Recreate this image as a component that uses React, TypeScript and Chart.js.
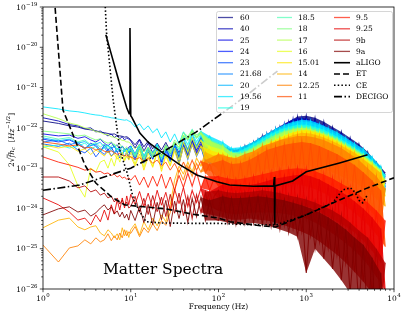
import React, { useEffect, useRef } from "react";
import { Chart, registerables } from "chart.js";
Chart.register(...registerables);

// shared frequency grid (Hz)
const freqs = [1, 1.5, 2, 2.5, 3, 3.5, 4, 4.5, 5, 5.5, 6, 6.5, 7, 7.5, 8, 8.5, 9, 9.5,
  10, 11.2, 12.6, 14.1, 15.8, 17.8, 20, 22.4, 25.1, 28.2, 31.6, 35.5, 39.8, 44.7, 50.1, 56.2, 63.1, 70.8, 79.4, 89.1,
  100, 112, 126, 141, 158, 178, 200, 224, 251, 282, 316, 355, 398, 447, 501, 562, 631, 708, 794, 891,
  1000, 1122, 1259, 1413, 1585, 1778, 1995, 2239, 2512, 2818, 3162, 3548, 3981, 4467, 5012, 5623, 6310, 7079, 7943];

// log10 of 2*sqrt(f)*h_c for each spectrum
const s60 = [-21.83,-21.89,-21.95,-21.98,-22.03,-22.05,-22.07,-22.11,-22.12,-22.14,-22.16,-22.15,-22.19,-22.20,-22.21,-22.23,-22.22,-22.25,
  -22.30,-22.42,-22.28,-22.47,-22.33,-22.52,-22.38,-22.55,-22.36,-22.58,-22.40,-22.62,-22.35,-22.55,-22.28,-22.48,-22.25,-22.52,-22.35,-22.60,
  -22.40,-22.85,-22.50,-23.05,-22.55,-22.95,-22.45,-22.90,-22.35,-22.85,-22.20,-22.75,-22.10,-22.65,-21.98,-22.55,-21.85,-22.45,-21.72,-22.40,
  -21.70,-22.35,-21.75,-22.45,-21.85,-22.50,-21.98,-22.60,-22.10,-22.70,-22.25,-22.85,-22.40,-22.95,-22.60,-23.10,-22.85,-23.30,-23.10];
const s40 = [-21.75,-21.83,-21.92,-21.95,-22.02,-22.00,-22.10,-22.08,-22.14,-22.20,-22.15,-22.24,-22.19,-22.27,-22.22,-22.30,-22.25,-22.28,
  -22.32,-22.50,-22.30,-22.58,-22.38,-22.62,-22.40,-22.70,-22.45,-22.65,-22.40,-22.72,-22.36,-22.60,-22.30,-22.55,-22.33,-22.62,-22.42,-22.70,
  -22.95,-22.45,-23.05,-22.60,-23.10,-22.55,-23.00,-22.48,-22.92,-22.30,-22.85,-22.15,-22.75,-22.02,-22.65,-21.90,-22.55,-21.78,-22.45,-21.75,
  -22.42,-21.80,-22.50,-21.90,-22.58,-22.00,-22.65,-22.12,-22.75,-22.25,-22.85,-22.38,-22.95,-22.55,-23.10,-22.75,-23.25,-22.98,-23.40];
const s25 = [-22.15,-22.20,-22.18,-22.26,-22.22,-22.30,-22.35,-22.28,-22.38,-22.45,-22.36,-22.48,-22.42,-22.55,-22.45,-22.52,-22.60,-22.48,
  -22.45,-22.65,-22.40,-22.72,-22.50,-22.78,-22.48,-22.70,-22.42,-22.80,-22.50,-22.75,-22.38,-22.68,-22.32,-22.62,-22.40,-22.74,-22.48,-22.82,
  -22.50,-22.98,-22.62,-23.10,-22.66,-23.05,-22.55,-23.00,-22.42,-22.92,-22.30,-22.82,-22.18,-22.72,-22.05,-22.62,-21.92,-22.55,-21.82,-22.50,
  -21.80,-22.48,-21.85,-22.55,-21.95,-22.62,-22.06,-22.70,-22.18,-22.80,-22.32,-22.92,-22.48,-23.02,-22.66,-23.18,-22.90,-23.35,-23.15];
const s24 = [-22.28,-22.35,-22.30,-22.40,-22.52,-22.38,-22.45,-22.60,-22.42,-22.55,-22.48,-22.62,-22.50,-22.58,-22.68,-22.52,-22.60,-22.70,
  -22.50,-22.75,-22.45,-22.82,-22.55,-22.70,-22.40,-22.85,-22.52,-22.78,-22.45,-22.88,-22.42,-22.72,-22.38,-22.66,-22.44,-22.80,-22.50,-22.86,
  -23.00,-22.55,-23.12,-22.68,-23.15,-22.62,-23.05,-22.50,-22.98,-22.38,-22.88,-22.25,-22.80,-22.12,-22.70,-22.00,-22.62,-21.90,-22.55,-21.85,
  -22.52,-21.88,-22.58,-21.96,-22.64,-22.08,-22.72,-22.20,-22.82,-22.34,-22.92,-22.48,-23.05,-22.64,-23.18,-22.85,-23.32,-23.05,-23.48];
const s23 = [-22.40,-22.46,-22.38,-22.55,-22.62,-22.50,-22.72,-22.58,-22.66,-22.55,-22.70,-22.62,-22.58,-22.75,-22.64,-22.70,-22.60,-22.78,
  -22.55,-22.80,-22.50,-22.88,-22.60,-22.76,-22.48,-22.92,-22.58,-22.84,-22.50,-22.90,-22.46,-22.78,-22.40,-22.70,-22.48,-22.85,-22.55,-22.92,
  -22.58,-23.05,-22.70,-23.18,-22.72,-23.10,-22.62,-23.05,-22.50,-22.98,-22.38,-22.90,-22.25,-22.80,-22.12,-22.72,-22.00,-22.65,-21.92,-22.60,
  -21.90,-22.62,-21.95,-22.68,-22.04,-22.75,-22.15,-22.82,-22.28,-22.92,-22.42,-23.02,-22.58,-23.15,-22.75,-23.30,-22.98,-23.45,-23.20];
const s21_68 = [-22.35,-22.30,-22.42,-22.36,-22.50,-22.44,-22.40,-22.55,-22.48,-22.62,-22.52,-22.45,-22.60,-22.55,-22.65,-22.58,-22.50,-22.62,
  -22.55,-22.72,-22.48,-22.80,-22.58,-22.75,-22.52,-22.82,-22.55,-22.70,-22.45,-22.78,-22.35,-22.62,-22.25,-22.50,-22.28,-22.58,-22.40,-22.72,
  -22.95,-22.50,-23.05,-22.62,-23.10,-22.60,-23.02,-22.52,-22.95,-22.40,-22.88,-22.28,-22.78,-22.15,-22.70,-22.05,-22.62,-21.95,-22.58,-21.90,
  -22.58,-21.92,-22.62,-22.00,-22.68,-22.10,-22.75,-22.22,-22.85,-22.35,-22.95,-22.48,-23.08,-22.62,-23.22,-22.82,-23.38,-23.02,-23.55];
const s20 = [-22.25,-22.32,-22.28,-22.38,-22.34,-22.44,-22.40,-22.36,-22.48,-22.42,-22.52,-22.46,-22.55,-22.50,-22.45,-22.58,-22.52,-22.60,
  -22.45,-22.68,-22.40,-22.72,-22.48,-22.66,-22.42,-22.75,-22.46,-22.62,-22.38,-22.68,-22.25,-22.55,-22.15,-22.45,-22.20,-22.52,-22.35,-22.65,
  -22.40,-22.90,-22.55,-23.02,-22.60,-22.98,-22.50,-22.92,-22.38,-22.85,-22.25,-22.75,-22.12,-22.66,-22.02,-22.58,-21.92,-22.52,-21.85,-22.50,
  -21.84,-22.52,-21.90,-22.58,-21.98,-22.65,-22.10,-22.72,-22.22,-22.82,-22.36,-22.92,-22.52,-23.05,-22.70,-23.20,-22.92,-23.38,-23.18];
const s19_56 = [-21.48,-21.53,-21.58,-21.60,-21.63,-21.66,-21.68,-21.69,-21.72,-21.73,-21.75,-21.76,-21.78,-21.79,-21.80,-21.81,-21.80,-21.83,
  -21.85,-21.98,-21.90,-22.05,-21.95,-22.12,-22.02,-22.25,-22.10,-22.35,-22.15,-22.40,-22.10,-22.30,-22.05,-22.25,-22.08,-22.35,-22.20,-22.50,
  -22.75,-22.35,-22.88,-22.50,-22.95,-22.48,-22.88,-22.40,-22.80,-22.28,-22.70,-22.15,-22.62,-22.02,-22.52,-21.92,-22.45,-21.85,-22.42,-21.80,
  -22.42,-21.82,-22.46,-21.90,-22.52,-22.00,-22.60,-22.10,-22.70,-22.24,-22.82,-22.38,-22.95,-22.52,-23.10,-22.72,-23.28,-22.95,-23.45];
const s19 = [-22.48,-22.42,-22.50,-22.45,-22.38,-22.52,-22.46,-22.58,-22.50,-22.44,-22.56,-22.62,-22.50,-22.58,-22.66,-22.55,-22.62,-22.52,
  -22.48,-22.65,-22.42,-22.70,-22.50,-22.62,-22.40,-22.72,-22.45,-22.60,-22.35,-22.55,-22.22,-22.42,-22.12,-22.35,-22.15,-22.45,-22.30,-22.60,
  -22.42,-22.88,-22.58,-23.00,-22.62,-22.95,-22.52,-22.90,-22.40,-22.82,-22.28,-22.74,-22.15,-22.66,-22.05,-22.58,-21.98,-22.52,-21.92,-22.52,
  -21.92,-22.55,-21.98,-22.60,-22.05,-22.68,-22.16,-22.76,-22.28,-22.86,-22.42,-22.96,-22.56,-23.08,-22.72,-23.22,-22.92,-23.40,-23.15];
const s18_5 = [-22.20,-22.28,-22.24,-22.35,-22.30,-22.42,-22.36,-22.48,-22.40,-22.52,-22.45,-22.40,-22.55,-22.48,-22.58,-22.52,-22.62,-22.55,
  -22.50,-22.68,-22.45,-22.75,-22.52,-22.70,-22.46,-22.78,-22.50,-22.66,-22.38,-22.52,-22.20,-22.30,-22.10,-22.25,-22.12,-22.35,-22.28,-22.55,
  -22.80,-22.42,-22.95,-22.60,-23.02,-22.60,-22.95,-22.52,-22.88,-22.40,-22.80,-22.28,-22.72,-22.15,-22.65,-22.06,-22.58,-22.00,-22.55,-21.96,
  -22.58,-21.98,-22.62,-22.05,-22.68,-22.14,-22.76,-22.25,-22.86,-22.38,-22.96,-22.50,-23.08,-22.65,-23.22,-22.82,-23.38,-23.02,-23.55];
const s18 = [-22.08,-22.12,-22.15,-22.20,-22.18,-22.25,-22.30,-22.27,-22.34,-22.38,-22.35,-22.42,-22.45,-22.40,-22.48,-22.52,-22.47,-22.55,
  -22.55,-22.72,-22.50,-22.80,-22.56,-22.74,-22.48,-22.70,-22.42,-22.58,-22.30,-22.42,-22.12,-22.22,-22.05,-22.18,-22.10,-22.30,-22.28,-22.52,
  -22.48,-22.95,-22.65,-23.05,-22.70,-23.00,-22.60,-22.95,-22.48,-22.88,-22.35,-22.80,-22.22,-22.72,-22.12,-22.65,-22.05,-22.62,-22.00,-22.60,
  -22.02,-22.64,-22.08,-22.70,-22.15,-22.78,-22.25,-22.86,-22.38,-22.96,-22.50,-23.06,-22.64,-23.18,-22.80,-23.32,-23.00,-23.50,-23.25];
const s17 = [-21.65,-21.77,-21.88,-21.93,-22.00,-22.03,-22.09,-22.11,-22.16,-22.17,-22.22,-22.23,-22.27,-22.28,-22.31,-22.32,-22.35,-22.35,
  -22.40,-22.52,-22.42,-22.60,-22.48,-22.66,-22.50,-22.72,-22.46,-22.62,-22.35,-22.48,-22.18,-22.28,-22.10,-22.24,-22.14,-22.38,-22.32,-22.58,
  -22.85,-22.45,-22.98,-22.62,-23.05,-22.64,-22.98,-22.56,-22.90,-22.45,-22.84,-22.32,-22.76,-22.20,-22.68,-22.10,-22.62,-22.04,-22.60,-22.00,
  -22.62,-22.02,-22.66,-22.10,-22.72,-22.18,-22.80,-22.28,-22.90,-22.42,-23.00,-22.54,-23.12,-22.68,-23.26,-22.86,-23.42,-23.05,-23.60];
const s16 = [-22.47,-22.60,-22.92,-23.44,-23.72,-23.00,-23.09,-22.85,-22.80,-23.00,-22.75,-22.95,-22.67,-22.85,-22.60,-22.80,-22.55,-22.75,
  -22.60,-22.90,-22.55,-22.98,-22.62,-22.95,-22.58,-23.02,-22.65,-22.92,-22.50,-22.80,-22.35,-22.60,-22.25,-22.50,-22.30,-22.62,-22.45,-22.78,
  -23.00,-22.55,-23.10,-22.72,-23.15,-22.72,-23.08,-22.64,-23.00,-22.52,-22.92,-22.40,-22.85,-22.28,-22.78,-22.18,-22.72,-22.10,-22.70,-22.06,
  -22.72,-22.08,-22.76,-22.14,-22.82,-22.22,-22.90,-22.32,-23.00,-22.45,-23.10,-22.58,-23.22,-22.72,-23.35,-22.88,-23.52,-23.08,-23.70];
const s15_01 = [-22.42,-22.50,-22.45,-22.58,-22.52,-22.66,-22.55,-22.62,-22.70,-22.58,-22.72,-22.64,-22.78,-22.68,-22.75,-22.82,-22.70,-22.80,
  -22.70,-22.95,-22.65,-23.05,-22.72,-22.98,-22.62,-23.08,-22.70,-22.95,-22.58,-22.90,-22.48,-22.75,-22.40,-22.68,-22.45,-22.78,-22.55,-22.90,
  -22.62,-23.12,-22.75,-23.22,-22.80,-23.18,-22.70,-23.12,-22.58,-23.05,-22.45,-22.98,-22.35,-22.90,-22.25,-22.85,-22.15,-22.80,-22.08,-22.78,
  -22.05,-22.80,-22.10,-22.86,-22.18,-22.94,-22.28,-23.02,-22.40,-23.12,-22.52,-23.22,-22.66,-23.35,-22.84,-23.50,-23.02,-23.68,-23.30];
const s14 = [-24.48,-24.29,-24.24,-24.46,-24.53,-24.46,-24.43,-24.61,-24.68,-24.53,-24.61,-24.73,-24.63,-24.78,-24.48,-24.68,-24.55,-24.72,
  -24.53,-24.38,-24.66,-24.33,-24.53,-24.24,-24.43,-24.16,-24.33,-23.91,-23.30,-22.95,-23.15,-22.85,-23.10,-22.75,-22.95,-22.60,-22.85,-22.70,
  -23.05,-22.65,-23.18,-22.76,-23.28,-22.78,-23.20,-22.70,-23.12,-22.58,-23.05,-22.46,-23.00,-22.36,-22.95,-22.26,-22.92,-22.18,-22.90,-22.12,
  -22.92,-22.14,-22.96,-22.20,-23.02,-22.28,-23.10,-22.38,-23.20,-22.50,-23.30,-22.62,-23.42,-22.78,-23.58,-22.94,-23.76,-23.12,-23.95];
const s12_25 = [-24.91,-25.33,-24.98,-24.93,-24.78,-24.88,-24.73,-24.83,-24.78,-24.63,-24.80,-24.68,-24.78,-24.61,-24.73,-24.53,-24.68,-24.58,
  -24.62,-24.45,-24.70,-24.48,-24.60,-24.38,-24.55,-24.30,-24.42,-24.10,-23.55,-23.05,-23.30,-22.95,-23.20,-22.88,-23.10,-22.80,-23.05,-22.85,
  -22.65,-23.35,-22.72,-23.45,-22.75,-23.42,-22.65,-23.40,-22.58,-23.35,-22.45,-23.30,-22.38,-23.25,-22.30,-23.22,-22.25,-23.20,-22.20,-23.20,
  -22.20,-23.25,-22.24,-23.32,-22.30,-23.40,-22.40,-23.50,-22.50,-23.60,-22.65,-23.72,-22.80,-23.85,-23.00,-24.10,-23.20,-24.40,-23.50];
const s11 = [-22.35,-22.40,-22.45,-22.42,-22.50,-22.48,-22.55,-22.52,-22.58,-22.60,-22.57,-22.62,-22.66,-22.63,-22.68,-22.70,-22.67,-22.72,
  -22.72,-22.78,-22.74,-22.82,-22.76,-22.88,-22.80,-22.95,-22.85,-23.05,-22.88,-23.10,-22.85,-23.08,-22.80,-23.05,-22.82,-23.12,-22.90,-23.20,
  -23.45,-22.80,-23.55,-22.90,-23.60,-22.88,-23.55,-22.80,-23.50,-22.68,-23.45,-22.55,-23.40,-22.48,-23.38,-22.42,-23.38,-22.38,-23.40,-22.35,
  -23.45,-22.38,-23.52,-22.45,-23.62,-22.55,-23.75,-22.65,-23.88,-22.78,-24.02,-22.92,-24.20,-23.10,-24.40,-23.30,-24.65,-23.55,-24.95];
const s9_5 = [-22.72,-22.85,-22.92,-22.98,-23.05,-23.02,-23.10,-23.08,-23.14,-23.12,-23.18,-23.15,-23.22,-23.18,-23.25,-23.22,-23.28,-23.24,
  -23.30,-23.18,-23.42,-23.22,-23.48,-23.20,-23.45,-23.15,-23.50,-23.22,-23.55,-23.18,-23.48,-23.12,-23.45,-23.10,-23.50,-23.20,-23.55,-23.25,
  -23.20,-23.85,-23.25,-23.92,-23.28,-23.90,-23.25,-23.88,-23.20,-23.85,-23.15,-23.85,-23.10,-23.85,-23.05,-23.85,-23.02,-23.88,-23.00,-23.92,
  -23.02,-23.98,-23.08,-24.08,-23.16,-24.20,-23.26,-24.32,-23.38,-24.45,-23.50,-24.60,-23.66,-24.80,-23.85,-25.05,-24.05,-25.35,-24.30];
const s9_25 = [-23.74,-23.91,-24.09,-24.29,-24.24,-24.41,-24.16,-24.33,-24.04,-24.29,-23.91,-24.14,-23.79,-24.04,-23.74,-23.99,-23.69,-23.91,
  -23.65,-23.90,-23.58,-23.95,-23.62,-24.02,-23.55,-23.92,-23.60,-24.05,-23.52,-23.88,-23.48,-23.95,-23.55,-23.85,-23.50,-23.92,-23.58,-23.98,
  -24.05,-23.40,-24.12,-23.45,-24.15,-23.45,-24.12,-23.42,-24.10,-23.38,-24.10,-23.32,-24.10,-23.26,-24.12,-23.22,-24.15,-23.18,-24.20,-23.16,
  -24.25,-23.20,-24.35,-23.28,-24.48,-23.40,-24.62,-23.52,-24.78,-23.66,-24.95,-23.82,-25.15,-24.00,-25.40,-24.22,-25.70,-24.50,-26.05];
const s9b = [-23.22,-23.22,-23.32,-23.49,-23.44,-23.59,-23.54,-23.67,-23.62,-23.74,-23.69,-23.84,-23.74,-23.89,-23.79,-23.94,-23.84,-23.99,
  -23.95,-23.70,-24.10,-23.75,-24.15,-23.68,-24.08,-23.72,-24.20,-23.65,-24.12,-23.62,-24.18,-23.70,-24.25,-23.66,-24.10,-23.60,-24.15,-23.70,
  -23.55,-24.22,-23.60,-24.28,-23.62,-24.28,-23.60,-24.25,-23.58,-24.28,-23.55,-24.30,-23.58,-24.35,-23.62,-24.42,-23.68,-24.50,-23.72,-24.58,
  -23.78,-24.68,-23.85,-24.82,-23.95,-24.98,-24.05,-25.15,-24.18,-25.35,-24.35,-25.58,-24.55,-25.82,-24.72,-26.10,-25.00,-26.45,-25.35];
const s9a = [-24.16,-24.01,-23.96,-24.09,-24.04,-24.19,-24.11,-23.99,-23.91,-24.04,-23.96,-24.14,-24.06,-24.21,-24.09,-24.24,-24.14,-24.29,
  -24.05,-24.30,-23.95,-24.35,-23.90,-24.40,-23.85,-24.28,-23.80,-24.45,-23.82,-24.25,-23.78,-24.35,-23.75,-24.20,-23.72,-24.30,-23.80,-24.25,
  -24.30,-23.70,-24.35,-23.75,-24.40,-23.74,-24.38,-23.72,-24.36,-23.70,-24.40,-23.72,-24.45,-23.76,-24.52,-23.80,-24.60,-23.86,-24.70,-23.92,
  -25.60,-24.00,-25.00,-24.10,-25.25,-24.22,-25.50,-24.36,-25.78,-24.52,-26.10,-24.72,-26.45,-24.90,-26.80,-25.22,-27.20,-25.60,-27.60];

const spectraLabels = ["60","40","25","24","23","21.68","20","19.56","19","18.5","18","17","16","15.01","14","12.25","11","9.5","9.25","9b","9a"];
const spectra = [s60,s40,s25,s24,s23,s21_68,s20,s19_56,s19,s18_5,s18,s17,s16,s15_01,s14,s12_25,s11,s9_5,s9_25,s9b,s9a];

// detector sensitivity curves (freq in Hz, log10 amplitude)
const aligoF = [5.2, 6, 7, 8, 9, 9.6, 9.8, 10.0, 10.3, 12.7, 16, 23.2, 36.4, 56.5, 96, 134, 250, 425, 433, 437, 441, 700, 1000, 2400, 5000];
const aligoV = [-19.69,-20.17,-20.69,-21.13,-21.50,-21.65,-19.52,-21.70,-21.74,-22.13,-22.37,-22.62,-22.92,-23.17,-23.34,-23.42,-23.45,-23.44,-23.22,-24.41,-23.44,-23.32,-23.09,-22.87,-22.67];
const etF = [1.35, 1.69, 2, 2.6, 3, 4, 6, 8.5, 14, 25, 50, 100, 135, 300, 450, 1000, 2400, 5000, 10000];
const etV = [-18.8,-21.56,-21.95,-22.57,-22.92,-23.37,-23.71,-23.91,-23.96,-24.01,-24.14,-24.24,-24.33,-24.43,-24.46,-24.16,-23.79,-23.49,-23.24];
const ceF = [5.1, 5.3, 6.3, 7.5, 9.1, 10.8, 12.9, 15, 22, 50, 100, 200, 450, 1000, 2000, 2600, 3200, 3600, 4000, 4400, 5000];
const ceV = [-18.9,-19.65,-21.30,-22.55,-23.12,-23.79,-24.11,-24.33,-24.36,-24.37,-24.37,-24.40,-24.41,-24.16,-23.86,-23.54,-23.49,-23.60,-23.80,-23.86,-23.66];
const decigoF = [1, 2.6, 10, 23, 56, 135, 250, 470];
const decigoV = [-23.55,-23.42,-23.00,-22.60,-22.10,-21.50,-21.06,-20.59];

const xDecades = [0, 1, 2, 3, 4];
const yDecades = [-26, -25, -24, -23, -22, -21, -20, -19];

// jet colormap samples (style)
const jetColors = [
  [0,0,0.5],[0,0,0.7],[0,0,0.9],[0,0.1,1],[0,0.3,1],[0,0.5,1],[0,0.7,1],[0,0.9,1],
  [0.1,1,0.9],[0.3,1,0.7],[0.5,1,0.5],[0.7,1,0.3],[0.9,1,0.1],[1,0.9,0],[1,0.7,0],[1,0.5,0],
  [1,0.3,0],[1,0.1,0],[0.9,0,0],[0.7,0,0],[0.5,0,0]];
const rgba = (c: number[], a: number) => `rgba(${Math.round(c[0]*255)},${Math.round(c[1]*255)},${Math.round(c[2]*255)},${a})`;

const SERIF = '"DejaVu Serif", serif';
const SPLIT_HZ = 40;
const BAND_HZ = 60;

type P = { x: number; y: number };
const toPts = (fs: number[], vs: number[], lo = 0, hi = Infinity) => {
  const n = Math.min(fs.length, vs.length);
  const out: P[] = [];
  for (let i = 0; i < n; i++) if (fs[i] >= lo && fs[i] <= hi) out.push({ x: fs[i], y: Math.pow(10, vs[i]) });
  return out;
};
// closed outline through the local maxima (left->right) and local minima (right->left) of a noisy trace
const bandOutline = (pts: P[]) => {
  const up: P[] = [];
  const dn: P[] = [];
  pts.forEach((p, i) => {
    const first = i === 0, last = i === pts.length - 1;
    const a = first ? null : pts[i - 1].y;
    const b = last ? null : pts[i + 1].y;
    const isMax = (a === null || p.y >= a) && (b === null || p.y >= b);
    const isMin = (a === null || p.y <= a) && (b === null || p.y <= b);
    if (isMax || first || last) up.push(p);
    if (isMin || first || last) dn.push(p);
  });
  up.sort((p, q) => p.x - q.x);
  dn.sort((p, q) => q.x - p.x);
  return [...up, ...dn];
};

const detectors = [
  { label: "aLIGO", f: aligoF, v: aligoV, dash: [] as number[] },
  { label: "ET", f: etF, v: etV, dash: [6, 3] },
  { label: "CE", f: ceF, v: ceV, dash: [1.5, 2.2] },
  { label: "DECIGO", f: decigoF, v: decigoV, dash: [8, 2.5, 1.5, 2.5] },
];

function drawPow(ctx: CanvasRenderingContext2D, exp: number, x: number, y: number, align: "right" | "center") {
  const base = "10";
  const sup = exp < 0 ? "\u2212" + Math.abs(exp) : String(exp);
  ctx.font = `7.5px ${SERIF}`;
  const wb = ctx.measureText(base).width;
  ctx.font = `5.4px ${SERIF}`;
  const ws = ctx.measureText(sup).width;
  const w = wb + ws + 0.4;
  const x0 = align === "right" ? x - w : x - w / 2;
  ctx.textAlign = "left";
  ctx.textBaseline = "alphabetic";
  ctx.font = `7.5px ${SERIF}`;
  ctx.fillText(base, x0, y);
  ctx.font = `5.4px ${SERIF}`;
  ctx.fillText(sup, x0 + wb + 0.4, y - 3.6);
}

const decorPlugin = {
  id: "decor",
  afterDraw(chart: any) {
    const ctx: CanvasRenderingContext2D = chart.ctx;
    const xs = chart.scales.x;
    const ys = chart.scales.y;
    const { left, right, top, bottom } = chart.chartArea;
    ctx.save();
    ctx.fillStyle = "#000";
    ctx.strokeStyle = "#000";
    ctx.lineWidth = 0.8;
    ctx.strokeRect(left, top, right - left, bottom - top);
    ctx.lineWidth = 0.7;
    ctx.beginPath();
    for (const d of xDecades) {
      const px = xs.getPixelForValue(Math.pow(10, d));
      ctx.moveTo(px, bottom); ctx.lineTo(px, bottom + 3.2);
      if (d < 4) for (let m = 2; m <= 9; m++) {
        const p = xs.getPixelForValue(m * Math.pow(10, d));
        ctx.moveTo(p, bottom); ctx.lineTo(p, bottom + 1.8);
      }
    }
    for (const d of yDecades) {
      const py = ys.getPixelForValue(Math.pow(10, d));
      ctx.moveTo(left, py); ctx.lineTo(left - 3.2, py);
      if (d < -19) for (let m = 2; m <= 9; m++) {
        const p = ys.getPixelForValue(m * Math.pow(10, d));
        ctx.moveTo(left, p); ctx.lineTo(left - 1.8, p);
      }
    }
    ctx.stroke();
    for (const d of xDecades) drawPow(ctx, d, xs.getPixelForValue(Math.pow(10, d)), bottom + 11.5, "center");
    for (const d of yDecades) drawPow(ctx, d, left - 5.5, ys.getPixelForValue(Math.pow(10, d)) + 2.7, "right");
    ctx.font = `7.5px ${SERIF}`;
    ctx.textAlign = "center";
    ctx.fillText("Frequency (Hz)", (left + right) / 2, 309);
    ctx.save();
    ctx.translate(13.5, 140);
    ctx.rotate(-Math.PI / 2);
    const parts: [string, string, number][] = [
      ["2", `7.5px ${SERIF}`, 0],
      ["\u221A", `7.5px "DejaVu Sans"`, 0],
      ["f", `italic 7.5px ${SERIF}`, 0],
      ["h", `italic 7.5px ${SERIF}`, 0],
      ["c", `italic 5.3px ${SERIF}`, 1.6],
      ["  [", `7.5px ${SERIF}`, 0],
      ["Hz", `italic 7.5px ${SERIF}`, 0],
      ["\u22121/2", `5.3px ${SERIF}`, -3.4],
      ["]", `7.5px ${SERIF}`, 0],
    ];
    let total = 0;
    const widths: number[] = [];
    for (const [t, f] of parts) { ctx.font = f; const w = ctx.measureText(t).width; widths.push(w); total += w; }
    let cx = -total / 2;
    ctx.textAlign = "left";
    parts.forEach(([t, f, dy], i) => {
      ctx.font = f;
      ctx.fillText(t, cx, dy);
      if (i === 2) {
        ctx.lineWidth = 0.6;
        ctx.beginPath();
        ctx.moveTo(cx - 0.5, -6.3); ctx.lineTo(cx + widths[i] + 0.5, -6.3);
        ctx.stroke();
      }
      cx += widths[i];
    });
    ctx.restore();
    ctx.font = `15.5px ${SERIF}`;
    ctx.textAlign = "left";
    ctx.fillText("Matter Spectra", 103, 274);
    const lx = 216, ly = 11.5, lw = 176, lh = 101;
    ctx.beginPath();
    (ctx as any).roundRect ? (ctx as any).roundRect(lx + 0.5, ly, lw, lh, 2) : ctx.rect(lx + 0.5, ly, lw, lh);
    ctx.fillStyle = "rgba(255,255,255,0.8)";
    ctx.fill();
    ctx.strokeStyle = "#cccccc";
    ctx.lineWidth = 0.8;
    ctx.stroke();
    const cols = [
      { h0: 218, h1: 233, tx: 240 },
      { h0: 277, h1: 292, tx: 298 },
      { h0: 334, h1: 350, tx: 356 },
    ];
    const entries: { label: string; color: string; dash: number[]; width: number; col: number; row: number }[] = [];
    spectraLabels.forEach((lab, i) => {
      const col = i < 9 ? 0 : i < 17 ? 1 : 2;
      const row = i < 9 ? i : i < 17 ? i - 9 : i - 17;
      entries.push({ label: lab, color: rgba(jetColors[i], 0.7), dash: [], width: 1.3, col, row });
    });
    detectors.forEach((d, k) => entries.push({ label: d.label, color: "#000", dash: d.dash, width: 1.6, col: 2, row: 4 + k }));
    ctx.font = `7.5px ${SERIF}`;
    ctx.textBaseline = "middle";
    for (const e of entries) {
      const c = cols[e.col];
      const y = 17.5 + e.row * 11.3;
      ctx.strokeStyle = e.color;
      ctx.lineWidth = e.width;
      ctx.setLineDash(e.dash);
      ctx.beginPath();
      ctx.moveTo(c.h0, y); ctx.lineTo(c.h1, y);
      ctx.stroke();
      ctx.setLineDash([]);
      ctx.fillStyle = "#000";
      ctx.fillText(e.label, c.tx, y + 0.5);
    }
    ctx.restore();
  },
};

export default function App() {
  const ref = useRef<HTMLCanvasElement>(null);
  useEffect(() => {
    const nS = spectra.length;
    const top = nS * 3 + detectors.length + 5;
    const datasets: any[] = [];
    spectra.forEach((vals, i) => {
      const base = { pointRadius: 0, tension: 0 };
      const hf = toPts(freqs, vals, SPLIT_HZ * 0.89, Infinity);
      const band = toPts(freqs, vals, BAND_HZ, Infinity);
      datasets.push({ ...base, label: spectraLabels[i] + " band", data: bandOutline(band), borderWidth: 0,
        borderColor: "rgba(0,0,0,0)", backgroundColor: rgba(jetColors[i], 0.8), fill: "shape", order: top - 3 * i });
      datasets.push({ ...base, label: spectraLabels[i] + " hf", data: hf, borderWidth: 1.1,
        borderColor: rgba(jetColors[i], 0.85), fill: false, order: top - 3 * i - 1 });
      datasets.push({ ...base, label: spectraLabels[i], data: toPts(freqs, vals, 0, SPLIT_HZ), borderWidth: 1,
        borderColor: rgba(jetColors[i], 0.85), fill: false, order: top - 3 * i - 2 });
    });
    detectors.forEach((d, k) => {
      datasets.push({
        label: d.label,
        data: toPts(d.f, d.v),
        borderColor: "#000",
        borderWidth: 1.6,
        borderDash: d.dash,
        pointRadius: 0,
        tension: 0,
        fill: false,
        order: detectors.length - k,
      });
    });
    const chart = new Chart(ref.current as HTMLCanvasElement, {
      type: "line",
      data: { datasets },
      options: {
        animation: false,
        responsive: false,
        devicePixelRatio: 1,
        events: [],
        parsing: false as any,
        layout: { padding: { left: 43, top: 7, right: 13, bottom: 25 } },
        scales: {
          x: { type: "logarithmic", min: 1, max: 10000, display: false },
          y: { type: "logarithmic", min: 1e-26, max: 1e-19, display: false },
        },
        plugins: { legend: { display: false }, tooltip: { enabled: false }, filler: { propagate: false } },
      },
      plugins: [decorPlugin],
    } as any);
    return () => chart.destroy();
  }, []);
  return (
    <div style={{ position: "fixed", left: 0, top: 0, width: 407, height: 314, background: "#fff" }}>
      <canvas ref={ref} width={407} height={314} style={{ width: 407, height: 314, display: "block" }} />
    </div>
  );
}
